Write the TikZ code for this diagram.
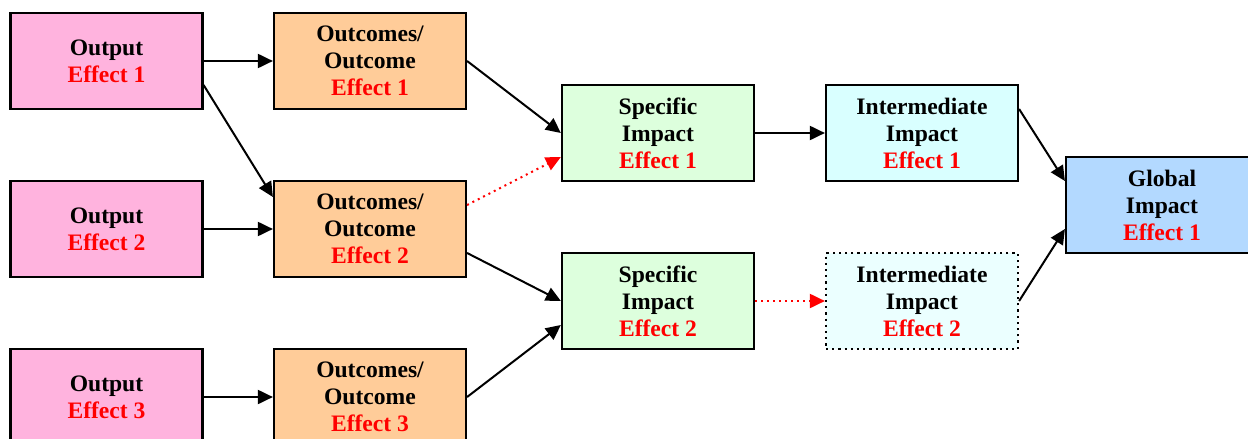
\documentclass[tikz,border=0pt]{standalone}
\usepackage{fontspec}
\setmainfont{Liberation Serif}
\usepackage{tikz}
\usetikzlibrary{arrows.meta,positioning}

\definecolor{outpink}{RGB}{255,179,222}
\definecolor{outcorange}{RGB}{255,204,153}
\definecolor{specgreen}{RGB}{221,255,221}
\definecolor{intcyan}{RGB}{217,255,255}
\definecolor{intpale}{RGB}{235,255,255}
\definecolor{globblue}{RGB}{179,217,255}
\definecolor{effred}{RGB}{255,0,0}

\tikzset{
  box/.style={draw, line width=1.1pt, shape=rectangle, minimum width=96pt,
    minimum height=48pt, inner sep=0pt, align=center,
    font=\fontsize{11.8}{13.5}\selectfont\bfseries},
  link/.style={-{Triangle[length=7.5pt,width=7pt]}, line width=1pt},
  maybe/.style={link, dotted, effred}
}
\newcommand{\eff}[1]{\textcolor{effred}{Effect #1}}

\begin{document}
\begin{tikzpicture}[x=0.5pt,y=-0.5pt]
  \useasboundingbox (0,0) rectangle (1248,439);
  \node (out1) [box, fill=outpink] at (106.5,61) {Output \\ \eff{1}};
  \node (out2) [box, fill=outpink] at (106.5,229) {Output \\ \eff{2}};
  \node (out3) [box, fill=outpink] at (106.5,397) {Output \\ \eff{3}};
  \node (outc1) [box, fill=outcorange] at (370,61) {Outcomes/ \\ Outcome \\ \eff{1}};
  \node (outc2) [box, fill=outcorange] at (370,229) {Outcomes/ \\ Outcome \\ \eff{2}};
  \node (outc3) [box, fill=outcorange] at (370,397) {Outcomes/ \\ Outcome \\ \eff{3}};
  \node (spec1) [box, fill=specgreen] at (658,133) {Specific \\ Impact \\ \eff{1}};
  \node (spec2) [box, fill=specgreen] at (658,301) {Specific \\ Impact \\ \eff{2}};
  \node (int1) [box, fill=intcyan] at (922,133) {Intermediate \\ Impact \\ \eff{1}};
  \node (int2) [box, fill=intpale, dotted] at (922,301) {Intermediate \\ Impact \\ \eff{2}};
  \node (glob) [box, fill=globblue] at (1162,205) {Global \\ Impact \\ \eff{1}};
  \draw[link] (out1) -- (outc1);
  \draw[link] ([yshift=-12pt]out1.east) -- ([yshift=16pt]outc2.west);
  \draw[link] (out2) -- (outc2);
  \draw[link] (out3) -- (outc3);
  \draw[link] (outc1.east) -- (spec1.west);
  \draw[maybe] ([yshift=12pt]outc2.east) -- ([yshift=-12pt]spec1.west);
  \draw[link] ([yshift=-12pt]outc2.east) -- (spec2.west);
  \draw[link] (outc3.east) -- ([yshift=-12pt]spec2.west);
  \draw[link] (spec1) -- (int1);
  \draw[maybe] (spec2) -- (int2);
  \draw[link] ([yshift=12pt]int1.east) -- ([yshift=12pt]glob.west);
  \draw[link] (int2.east) -- ([yshift=-12pt]glob.west);
\end{tikzpicture}
\end{document}
